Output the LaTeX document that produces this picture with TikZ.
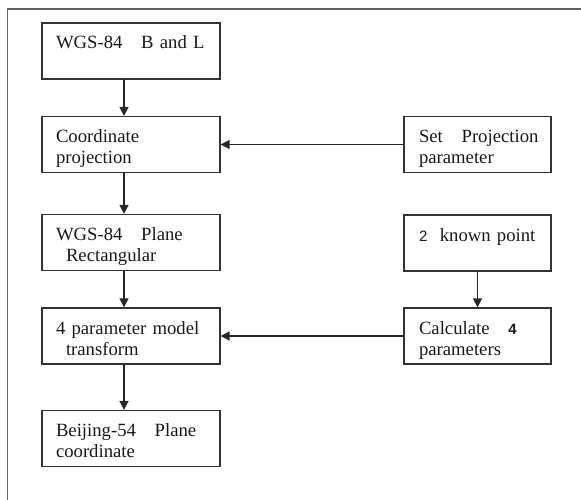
\documentclass[tikz,border=0pt]{standalone}
\usepackage{fontspec}
\setmainfont{Liberation Serif}
\newfontfamily\numfont{Liberation Sans}
\usepackage{xcolor}
\usepackage{tikz}
\usetikzlibrary{arrows.meta,positioning}

\begin{document}
\begin{tikzpicture}[
    x=1pt, y=-1pt,
    font=\fontsize{18.7}{21}\selectfont,
    leftbox/.style={draw=black!80, line width=1.3pt, align=left, text width=178pt, inner sep=0pt,
      text height=26pt, text depth=30pt, text=black!90, execute at begin node={\leftskip=14pt}},
    rightbox/.style={leftbox, text width=147pt, execute at begin node={\leftskip=15pt}},
    arrow/.style={-{Triangle[length=9pt, width=9pt]}, line width=1.5pt, black!85}
  ]
    \clip (0,0) rectangle (581,500);
    \draw[black!60, line width=1.5pt] (7.5,9) rectangle (600,520);

    \node[leftbox] (wgs) at (131,51) {WGS-84\quad B and L};
    \node[leftbox] (proj) at (131,144.5) {Coordinate\\projection};
    \node[leftbox] (plane) at (131,242.5) {WGS-84\quad Plane\\\hspace*{10pt}Rectangular};
    \node[leftbox] (model) at (131,336) {4 parameter model\\\hspace*{10pt}transform};
    \node[leftbox] (bj) at (131,438.5) {Beijing-54\quad Plane\\coordinate};

    \node[rightbox] (setp) at (477.5,144.5) {Set\quad Projection\\parameter};
    \node[rightbox] (known) at (477.5,243) {{\numfont\fontsize{15}{21}\selectfont 2}\ \ known point};
    \node[rightbox] (calc) at (477.5,336) {Calculate\quad{\numfont\bfseries\fontsize{15}{21}\selectfont 4}\\parameters};

    \draw[arrow] ([xshift=-7pt]wgs.south) -- ([xshift=-7pt]proj.north);
    \draw[arrow] ([xshift=-7pt]proj.south) -- ([xshift=-7pt]plane.north);
    \draw[arrow] ([xshift=-7pt]plane.south) -- ([xshift=-7pt]model.north);
    \draw[arrow] ([xshift=-7pt]model.south) -- ([xshift=-7pt]bj.north);
    \draw[arrow] (setp) -- (proj);
    \draw[arrow] (known) -- (calc);
    \draw[arrow] (calc) -- (model);
  \end{tikzpicture}
\end{document}
